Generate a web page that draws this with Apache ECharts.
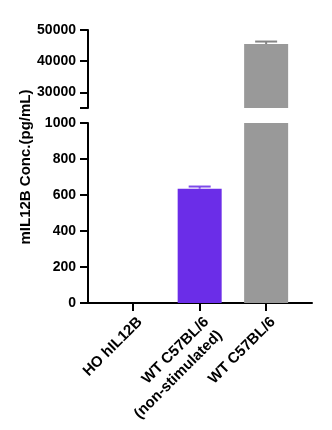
<!DOCTYPE html>
<html>
<head>
<meta charset="utf-8">
<script src="https://cdn.jsdelivr.net/npm/echarts@6/dist/echarts.min.js"></script>
<style>
html,body{margin:0;padding:0;background:#fff;}
#chart{width:332px;height:430px;}
</style>
</head>
<body>
<div id="chart"></div>
<script>
// Data
const categories = ['HO hIL12B', 'WT C57BL/6\n(non-stimulated)', 'WT C57BL/6'];
const values = [0, 635, 45500];
const errors = [0, 12, 800];
const topTicks = [25000, 30000, 40000, 50000];
const topLabels = [30000, 40000, 50000];
const catIndex = [0, 1, 2];

// Styles
const barColors = ['#6b2de8', '#6b2de8', '#999999'];
const errColors = ['#6b2de8', '#7d4ae9', '#858585'];
const FONT = "'Liberation Sans', Arial, sans-serif";

const chart = echarts.init(document.getElementById('chart'), null, {renderer: 'canvas'});

const barData = values.map((v, i) => ({
  value: [i, v],
  itemStyle: {color: barColors[i]}
}));
const errData = values.map((v, i) => [i, v, v + errors[i]]);

function renderErr(params, api) {
  const i = params.dataIndex;
  if (errors[i] === 0) return null;
  const x = api.value(0);
  const lo = api.coord([x, api.value(1)]);
  const hi = api.coord([x, api.value(2)]);
  const cs = params.coordSys;
  if (hi[1] < cs.y - 1 || lo[1] > cs.y + cs.height + 1) return null;
  const hw = 11;
  const st = {stroke: errColors[i], lineWidth: 2};
  return {type: 'group', children: [
    {type: 'line', shape: {x1: lo[0], y1: lo[1], x2: hi[0], y2: hi[1]}, style: st},
    {type: 'line', shape: {x1: hi[0] - hw, y1: hi[1], x2: hi[0] + hw, y2: hi[1]}, style: st}
  ]};
}

const axisLineStyle = {color: '#000', width: 2};
const xMin = -0.68, xMax = 2.69;
const yLabel = {margin: 12, fontSize: 14, fontWeight: 'bold', color: '#000', fontFamily: FONT, formatter: v => String(v)};

chart.setOption({
  animation: false,
  backgroundColor: '#fff',
  textStyle: {fontFamily: FONT},
  grid: [
    {left: 88, right: 20, top: 30, height: 78},
    {left: 88, right: 20, top: 123, height: 180}
  ],
  xAxis: [
    {gridIndex: 0, type: 'value', min: xMin, max: xMax, show: false},
    {gridIndex: 1, type: 'value', min: xMin, max: xMax,
     axisLine: {show: true, onZero: false, lineStyle: axisLineStyle},
     axisTick: {show: true, length: 8, lineStyle: axisLineStyle, customValues: catIndex},
     splitLine: {show: false},
     axisLabel: {
       customValues: catIndex,
       formatter: v => categories[Math.round(v)],
       rotate: 45, margin: 10,
       align: 'right', verticalAlign: 'top',
       fontSize: 15, fontWeight: 'bold', color: '#000', fontFamily: FONT, lineHeight: 19
     }}
  ],
  yAxis: [
    {gridIndex: 0, type: 'value', min: 25000, max: 50000,
     axisLine: {show: true, onZero: false, lineStyle: axisLineStyle},
     axisTick: {show: true, length: 8, lineStyle: axisLineStyle, customValues: topTicks},
     splitLine: {show: false},
     axisLabel: Object.assign({customValues: topLabels}, yLabel)},
    {gridIndex: 1, type: 'value', min: 0, max: 1000, interval: 200,
     axisLine: {show: true, onZero: false, lineStyle: axisLineStyle},
     axisTick: {show: true, length: 8, lineStyle: axisLineStyle},
     splitLine: {show: false},
     axisLabel: yLabel}
  ],
  series: [
    {type: 'bar', xAxisIndex: 0, yAxisIndex: 0, barWidth: 44, clip: true, data: barData},
    {type: 'bar', xAxisIndex: 1, yAxisIndex: 1, barWidth: 44, clip: true, data: barData},
    {type: 'custom', xAxisIndex: 0, yAxisIndex: 0, renderItem: renderErr, data: errData, z: 3},
    {type: 'custom', xAxisIndex: 1, yAxisIndex: 1, renderItem: renderErr, data: errData, z: 3}
  ],
  graphic: [{
    type: 'text', x: 26, y: 167, rotation: Math.PI / 2,
    style: {text: 'mIL12B Conc.(pg/mL)', font: "bold 15px 'Liberation Sans', Arial, sans-serif",
            fill: '#000', textAlign: 'center', textVerticalAlign: 'middle'}
  }]
});
</script>
</body>
</html>
